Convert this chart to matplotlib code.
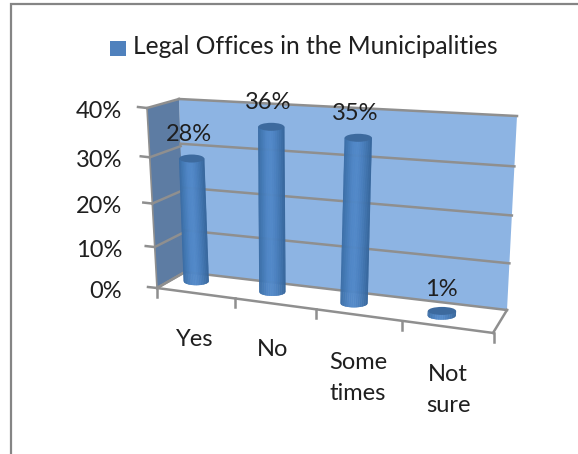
import numpy as np
import matplotlib
matplotlib.use("Agg")
import matplotlib.pyplot as plt
from matplotlib.collections import PolyCollection
from matplotlib.colors import LinearSegmentedColormap
from matplotlib.patches import Polygon, Rectangle, Ellipse
from matplotlib.transforms import Transform

# ---- data ----
categories = ["Yes", "No", "Some\ntimes", "Not\nsure"]
values = [0.28, 0.36, 0.35, 0.01]
value_labels = ["28%", "36%", "35%", "1%"]
y_ticks = [0.0, 0.1, 0.2, 0.3, 0.4]
y_tick_labels = ["0%", "10%", "20%", "30%", "40%"]
legend_label = "Legal Offices in the Municipalities"

plt.rcParams["font.family"] = ["Lato", "DejaVu Sans"]
W, H = 578, 454
fig = plt.figure(figsize=(W / 100, H / 100), dpi=100, facecolor="white")
ax = fig.add_axes([0, 0, 1, 1])
ax.set_xlim(0, W)
ax.set_ylim(H, 0)
ax.axis("off")


class Plane(Transform):
    """Perspective map of a chart plane (a, b) onto canvas coordinates."""
    input_dims = output_dims = 2

    def __init__(self, src, dst):
        super().__init__()
        A, rhs = [], []
        for (a, b), (x, y) in zip(src, dst):
            A.append([a, b, 1, 0, 0, 0, -a * x, -b * x]); rhs.append(x)
            A.append([0, 0, 0, a, b, 1, -a * y, -b * y]); rhs.append(y)
        self.m = np.append(np.linalg.solve(np.array(A, float), np.array(rhs, float)), 1).reshape(3, 3)

    def transform_non_affine(self, pts):
        pts = np.asarray(pts, float).reshape(-1, 2)
        p = np.c_[pts, np.ones(len(pts))] @ self.m.T
        return p[:, :2] / p[:, 2:]


box = [(0, 0), (4, 0), (4, 0.4), (0, 0.4)]
back = Plane(box, [(185, 272), (507, 310), (517, 116), (179, 99)])
side = Plane([(0, 0), (1, 0), (1, 0.4), (0, 0.4)], [(157, 288), (185, 272), (179, 99), (147, 108)])
floor = Plane([(0, 0), (4, 0), (4, 1), (0, 1)], [(157, 288), (493, 333), (507, 310), (185, 272)])
bars = Plane(box, [(160, 276), (488, 322), (504, 121), (151, 100)])

GRID = "#8f8f8f"
lw_grid = 1.8
TEXT = "#1f1f1f"
FS = 17.0

# frame of the picture
ax.plot([10.5, 10.5, W], [H, 3.5, 3.5], color="#858585", lw=1.6, solid_joinstyle="miter", zorder=1)

# walls and floor
ax.add_patch(Polygon(box, closed=True, fc="#8DB4E3", ec="none", transform=back + ax.transData, zorder=2))
ax.add_patch(Polygon([(0, 0), (1, 0), (1, 0.4), (0, 0.4)], closed=True, fc="#5D7CA3", ec="none",
                     transform=side + ax.transData, zorder=2))
ax.add_patch(Polygon([(0, 0), (4, 0), (4, 1), (0, 1)], closed=True, fc="white", ec="none",
                     transform=floor + ax.transData, zorder=2))

# gridlines across both walls, with the tick that sticks out on the left
for t, lab in zip(y_ticks, y_tick_labels):
    ax.plot([0, 4], [t, t], color=GRID, lw=lw_grid, transform=back + ax.transData, zorder=3)
    ax.plot([0, 1], [t, t], color=GRID, lw=lw_grid, transform=side + ax.transData, zorder=3)
    x0, y0 = side.transform_non_affine([(0, t)])[0]
    ax.plot([x0 - 9, x0], [y0 - 1, y0], color=GRID, lw=lw_grid, zorder=3)
    ax.text(122, y0 + 3, lab, ha="right", va="center", fontsize=FS, color=TEXT, zorder=6)

# outline of the floor, with its category ticks
edge_x = [157, 235, 316, 402, 493.5]
edge_y = np.interp(edge_x, [157, 493], [288, 333])
ax.plot(edge_x, edge_y, color=GRID, lw=lw_grid, zorder=3)
ax.plot([493, 507], [333, 310], color=GRID, lw=lw_grid, zorder=3)
ax.plot([157, 185], [288, 272], color=GRID, lw=lw_grid, zorder=3)
ax.plot([147, 157], [108, 288], color=GRID, lw=1.2, zorder=3)
for x, y in zip(edge_x, edge_y):
    ax.plot([x, x], [y, y + 9], color=GRID, lw=lw_grid, zorder=3)

# cylinders
cyl = LinearSegmentedColormap.from_list(
    "cyl", ["#3A6CA4", "#4379B6", "#4F86C6", "#5289C9", "#4A80BF", "#4074AE", "#35659B"])
for i, v in enumerate(values):
    (bx, by), (tx, ty) = bars.transform_non_affine([(i + 0.5, 0), (i + 0.5, v)])
    half_w = 12.5 + 0.5 * i
    half_h = 4.0
    edges = np.linspace(-1, 1, 41)
    strips, cols = [], []
    for a, b in zip(edges[:-1], edges[1:]):
        da, db = np.sqrt(1 - a * a), np.sqrt(1 - b * b)
        strips.append([(tx + a * half_w, ty), (tx + b * half_w, ty),
                       (bx + b * half_w, by + db * half_h), (bx + a * half_w, by + da * half_h)])
        cols.append(cyl((a + b + 2) / 4))
    ax.add_collection(PolyCollection(strips, facecolors=cols, edgecolors=cols, linewidths=0.3, zorder=4))
    ax.add_patch(Ellipse((tx, ty), 2 * half_w, 2 * half_h, fc="#3D6A9E", ec="none", zorder=5))
    ax.text(tx - 3 - (0 if i < 3 else -2), ty - 24 + (0 if i < 3 else 3), value_labels[i],
            ha="center", va="center", fontsize=FS, color=TEXT, zorder=6)

# category labels
label_x = [195, 273, 358, 448]
label_y = [339, 349, 378, 390]
for name, x, y in zip(categories, label_x, label_y):
    ax.text(x, y, name, ha="center", va="center", fontsize=FS, color=TEXT,
            linespacing=1.55, zorder=6)

# legend
ax.add_patch(Rectangle((110, 41), 15.5, 15, fc="#4F81BD", ec="none", zorder=6))
ax.text(133, 46, legend_label, ha="left", va="center", fontsize=17.7, color=TEXT, zorder=6)

fig.savefig("out.png", dpi=100, facecolor="white")
